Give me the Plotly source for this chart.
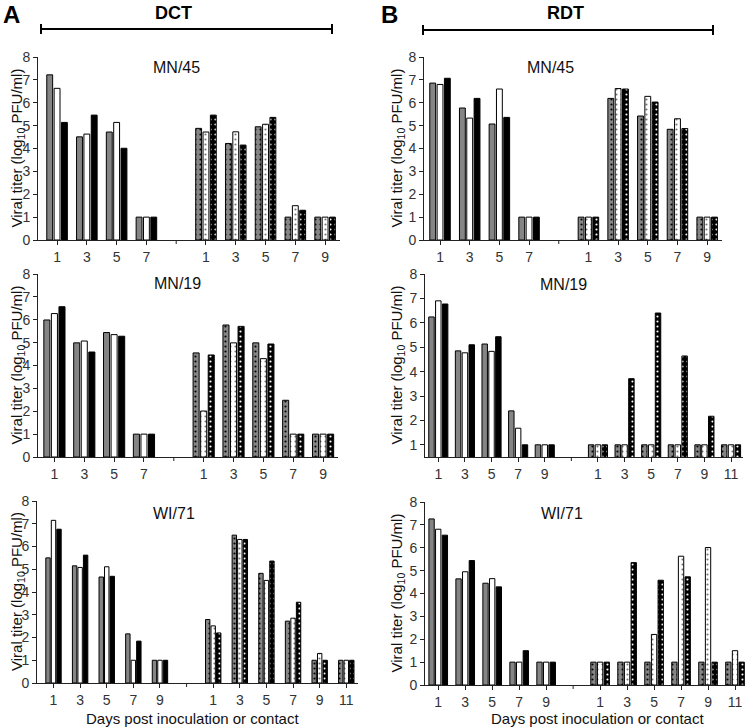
import plotly.graph_objects as go

W, H = 750, 728

# ---------------- data (log10 PFU/ml); each list = [gray animal, white animal, black animal]
days_inoc_a = [1, 3, 5, 7]
days_contact_a = [1, 3, 5, 7, 9]
days_inoc_b = [1, 3, 5, 7, 9]
days_contact_b = [1, 3, 5, 7, 9, 11]

dct_mn45_inoc = [[7.22, 4.51, 4.72, 1.0], [6.63, 4.63, 5.14, 1.0], [5.14, 5.46, 4.01, 1.0]]
dct_mn45_contact = [[4.88, 4.22, 4.95, 1.0, 1.0], [4.72, 4.73, 5.06, 1.50, 1.0], [5.46, 4.15, 5.36, 1.30, 1.0]]

rdt_mn45_inoc = [[6.86, 5.77, 5.07, 1.0], [6.80, 5.33, 6.60, 1.0], [7.07, 6.19, 5.36, 1.0]]
rdt_mn45_contact = [[1.0, 6.19, 5.42, 4.84, 1.0], [1.0, 6.62, 6.28, 5.30, 1.0], [1.0, 6.60, 6.03, 4.87, 1.0]]

dct_mn19_inoc = [[5.99, 4.99, 5.44, 1.0], [6.27, 5.07, 5.35, 1.0], [6.57, 4.59, 5.28, 1.0]]
dct_mn19_contact = [[4.55, 5.77, 4.99, 2.48, 1.0], [2.01, 4.99, 4.30, 1.0, 1.0], [4.46, 5.71, 4.94, 1.0, 1.0]]

rdt_mn19_inoc = [[6.24, 4.85, 5.13, 2.39, 1.0], [6.90, 4.77, 4.83, 1.68, 1.0], [6.77, 5.10, 5.43, 1.0, 1.0]]
rdt_mn19_contact = [[1.0, 1.0, 1.0, 1.0, 1.0, 1.0], [1.0, 1.0, 1.0, 1.0, 1.0, 1.0], [1.0, 3.71, 6.40, 4.64, 2.17, 1.0]]

dct_wi71_inoc = [[5.50, 5.15, 4.66, 2.16, 1.0], [7.15, 5.08, 5.11, 1.0, 1.0], [6.76, 5.62, 4.69, 1.84, 1.0]]
dct_wi71_contact = [[2.79, 6.50, 4.82, 2.72, 1.0, 1.0], [2.51, 6.31, 4.51, 2.85, 1.30, 1.0], [2.20, 6.31, 5.36, 3.55, 1.0, 1.0]]

rdt_wi71_inoc = [[7.26, 4.64, 4.45, 1.0, 1.0], [6.81, 4.95, 4.65, 1.0, 1.0], [6.55, 5.44, 4.29, 1.50, 1.0]]
rdt_wi71_contact = [[1.0, 1.0, 1.0, 1.0, 1.0, 1.0], [1.0, 1.0, 2.21, 5.63, 6.01, 1.50], [1.0, 5.35, 4.58, 4.73, 1.0, 1.0]]

panel_titles = ["MN/45", "MN/45", "MN/19", "MN/19", "WI/71", "WI/71"]

# ---------------- layout geometry (pixels)
panels = [
    dict(data=(days_inoc_a, days_contact_a, dct_mn45_inoc, dct_mn45_contact), px=(38, 340), py=(57, 240), xr=(-0.64, 9.5), yr=(0, 8), g=0.74, title_xy=(176, 67)),
    dict(data=(days_inoc_a, days_contact_a, rdt_mn45_inoc, rdt_mn45_contact), px=(424, 722), py=(57, 240), xr=(-0.54, 9.5), yr=(0, 8), g=0.74, title_xy=(550, 67)),
    dict(data=(days_inoc_a, days_contact_a, dct_mn19_inoc, dct_mn19_contact), px=(38, 338), py=(274, 457), xr=(-0.55, 9.5), yr=(0, 8), g=0.76, title_xy=(177, 284)),
    dict(data=(days_inoc_b, days_contact_b, rdt_mn19_inoc, rdt_mn19_contact), px=(425, 743), py=(274, 457), xr=(-0.5, 11.45), yr=(0.5, 8), g=0.77, title_xy=(563, 285)),
    dict(data=(days_inoc_b, days_contact_b, dct_wi71_inoc, dct_wi71_contact), px=(37, 358), py=(501, 683), xr=(-0.62, 11.44), yr=(0, 8), g=0.62, title_xy=(174, 513)),
    dict(data=(days_inoc_b, days_contact_b, rdt_wi71_inoc, rdt_wi71_contact), px=(425, 745), py=(502, 685), xr=(-0.49, 11.37), yr=(0, 8), g=0.74, title_xy=(562, 513)),
]

GRAY = "#858585"
solid_colors = [GRAY, "#ffffff", "#000000"]
dot_colors = ["#000000", "#777777", "#ffffff"]
FONT = "Liberation Sans, Arial, sans-serif"

fig = go.Figure()
layout = dict(
    template="none",
    width=W, height=H, autosize=False,
    margin=dict(l=0, r=0, t=0, b=0, pad=0),
    paper_bgcolor="white", plot_bgcolor="white",
    showlegend=False, barmode="overlay",
    font=dict(family=FONT, color="#222"),
)

def px2x(p):
    return p / W

def py2y(p):
    return 1 - p / H

annotations = []
shapes = []

for i, p in enumerate(panels):
    n = i + 1
    xa = "x" if n == 1 else f"x{n}"
    ya = "y" if n == 1 else f"y{n}"
    d_inoc, d_con, v_inoc, v_con = p["data"]
    ni = len(d_inoc)
    x_inoc = list(range(ni))
    x_con = [ni + 1 + k for k in range(len(d_con))]
    G = p["g"]
    sub = G / 3.0
    bw = sub * 0.8
    for k in range(3):
        off = -G / 2 + k * sub + (sub - bw) / 2
        fig.add_trace(go.Bar(
            x=x_inoc, y=v_inoc[k], xaxis=xa, yaxis=ya,
            width=bw, offset=off, base=0,
            marker=dict(color=solid_colors[k], line=dict(color="#000", width=1)),
            hoverinfo="y",
        ))
        fig.add_trace(go.Bar(
            x=x_con, y=v_con[k], xaxis=xa, yaxis=ya,
            width=bw, offset=off, base=0,
            marker=dict(color=solid_colors[k], line=dict(color="#000", width=1),
                        pattern=dict(shape=".", fgcolor=dot_colors[k], bgcolor=solid_colors[k],
                                     size=5, solidity=0.15)),
            hoverinfo="y",
        ))
    tickvals = x_inoc + x_con
    ticktext = [str(d) for d in d_inoc] + [str(d) for d in d_con]
    y0, y1 = p["yr"]
    yt = list(range(int(round(y0 + 0.49)), 9))
    layout["xaxis" if n == 1 else f"xaxis{n}"] = dict(
        domain=[px2x(p["px"][0]), px2x(p["px"][1])], anchor=ya,
        range=list(p["xr"]), tickvals=tickvals, ticktext=ticktext,
        ticks="outside", ticklen=4, tickwidth=1, tickcolor="#222",
        showline=True, linecolor="#222", linewidth=1, automargin=False,
        showgrid=False, zeroline=False, fixedrange=True,
        tickfont=dict(size=14, color="#333", family=FONT),
    )
    layout["yaxis" if n == 1 else f"yaxis{n}"] = dict(
        domain=[py2y(p["py"][1]), py2y(p["py"][0])], anchor=xa,
        range=[y0, y1], tickvals=yt, ticktext=[str(t) for t in yt],
        ticks="outside", ticklen=4, tickwidth=1, tickcolor="#222",
        showline=True, linecolor="#222", linewidth=1, automargin=False,
        showgrid=False, zeroline=False, fixedrange=True,
        tickfont=dict(size=14, color="#333", family=FONT),
    )
    # unlabeled separator tick between the inoculated and contact groups
    shapes.append(dict(type="line", xref=xa, yref="paper", x0=ni, x1=ni,
                       y0=py2y(p["py"][1]), y1=py2y(p["py"][1] + 4), line=dict(color="#222", width=1)))
    tx, ty = p["title_xy"]
    annotations.append(dict(text=panel_titles[i], x=px2x(tx), y=py2y(ty), xref="paper", yref="paper",
                            xanchor="center", yanchor="middle", showarrow=False,
                            font=dict(size=16, color="#111", family=FONT)))
    # y axis title
    ytx = 17 if i % 2 == 0 else 397
    annotations.append(dict(text="Viral titer (log<sub>10</sub> PFU/ml)", x=px2x(ytx),
                            y=py2y((p["py"][0] + p["py"][1]) / 2), xref="paper", yref="paper",
                            xanchor="center", yanchor="middle", showarrow=False, textangle=-90,
                            font=dict(size=15, color="#111", family=FONT)))

# column headers
for letter, lx, title, tx, l0, l1, ly in [("A", 11, "DCT", 173, 41, 332, 29), ("B", 389, "RDT", 565, 423, 713, 30)]:
    annotations.append(dict(text=f"<b>{letter}</b>", x=px2x(lx), y=py2y(14), xref="paper", yref="paper",
                            xanchor="center", yanchor="middle", showarrow=False,
                            font=dict(size=24, color="#000", family=FONT)))
    annotations.append(dict(text=f"<b>{title}</b>", x=px2x(tx), y=py2y(13), xref="paper", yref="paper",
                            xanchor="center", yanchor="middle", showarrow=False,
                            font=dict(size=18, color="#000", family=FONT)))
    shapes.append(dict(type="line", xref="paper", yref="paper", x0=px2x(l0), x1=px2x(l1),
                       y0=py2y(ly), y1=py2y(ly), line=dict(color="#000", width=2)))
    for ex in (l0, l1):
        shapes.append(dict(type="line", xref="paper", yref="paper", x0=px2x(ex), x1=px2x(ex),
                           y0=py2y(ly - 5), y1=py2y(ly + 5), line=dict(color="#000", width=2)))

# x axis titles
for cx in (192, 597):
    annotations.append(dict(text="Days post inoculation or contact", x=px2x(cx), y=py2y(718),
                            xref="paper", yref="paper", xanchor="center", yanchor="middle",
                            showarrow=False, font=dict(size=15, color="#111", family=FONT)))

layout["annotations"] = annotations
layout["shapes"] = shapes
fig.update_layout(**layout)
fig.write_html("out.html", config={"displayModeBar": False},
               post_script="document.body.style.margin='0';document.body.style.overflow='hidden';")
